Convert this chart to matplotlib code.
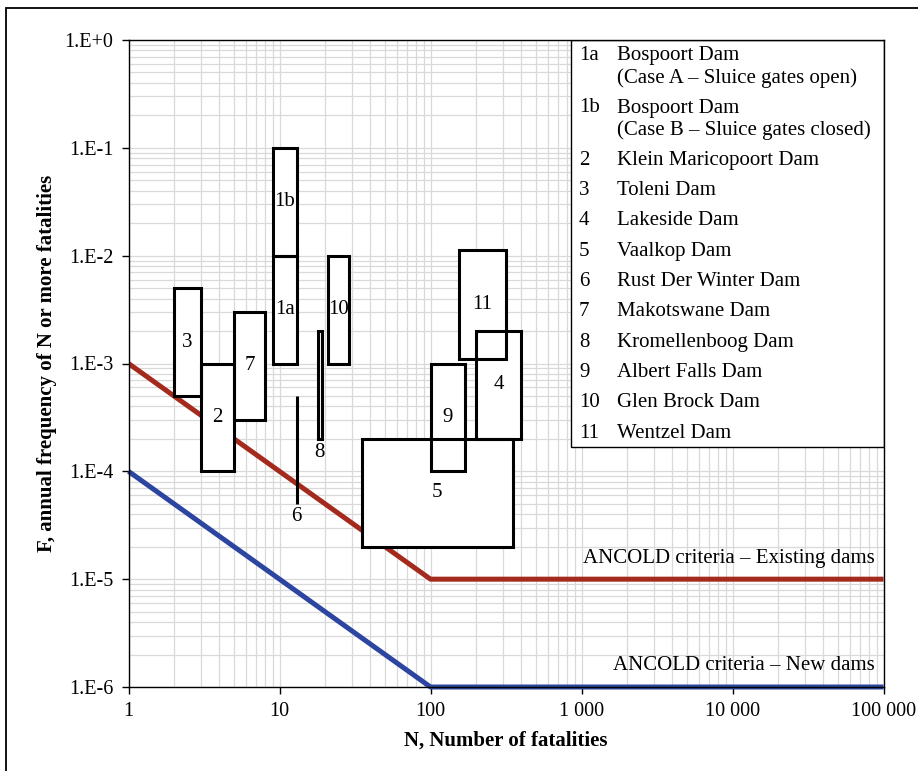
import matplotlib
matplotlib.use("Agg")
import matplotlib.pyplot as plt
from matplotlib.patches import Rectangle
from matplotlib.ticker import FixedLocator, FuncFormatter, LogLocator, NullFormatter

plt.rcParams['font.family'] = ['Liberation Serif', 'DejaVu Serif']

# F-N boxes per dam: N range and F range
dam_ids = ['1a', '1b', '2', '3', '4', '5', '6', '7', '8', '9', '10', '11']
n_low = [9, 9, 3, 2, 200, 35, 13, 5, 18, 100, 21, 155]
n_high = [13, 13, 5, 3, 400, 350, 13, 8, 19, 170, 29, 315]
f_low = [1e-3, 1e-2, 1e-4, 5e-4, 2e-4, 2e-5, 5e-5, 3e-4, 2e-4, 1e-4, 1e-3, 1.1e-3]
f_high = [1e-2, 1e-1, 1e-3, 5e-3, 2e-3, 2e-4, 5e-4, 3e-3, 2e-3, 1e-3, 1e-2, 1.13e-2]
label_below = ['6', '8']  # these labels sit under the box

# ANCOLD criteria lines
crit_n = [1, 100, 100000]
crit_existing = [1e-3, 1e-5, 1e-5]
crit_new = [1e-4, 1e-6, 1e-6]

legend_ids = ['1a', '1b', '2', '3', '4', '5', '6', '7', '8', '9', '10', '11']
legend_names = [
    ['Bospoort Dam', '(Case A – Sluice gates open)'],
    ['Bospoort Dam', '(Case B – Sluice gates closed)'],
    ['Klein Maricopoort Dam'],
    ['Toleni Dam'],
    ['Lakeside Dam'],
    ['Vaalkop Dam'],
    ['Rust Der Winter Dam'],
    ['Makotswane Dam'],
    ['Kromellenboog Dam'],
    ['Albert Falls Dam'],
    ['Glen Brock Dam'],
    ['Wentzel Dam'],
]

x_ticks = [1, 10, 100, 1000, 10000, 100000]
x_tick_labels = ['1', '10', '100', '1 000', '10 000', '100 000']
y_ticks = [1e-6, 1e-5, 1e-4, 1e-3, 1e-2, 1e-1, 1]
y_tick_labels = ['1.E-6', '1.E-5', '1.E-4', '1.E-3', '1.E-2', '1.E-1', '1.E+0']

W, H = 918, 771
fig = plt.figure(figsize=(W / 100, H / 100), dpi=100)
ax_l, ax_r, ax_t, ax_b = 128.5, 883.5, 40, 687  # axes edges in pixels
ax = fig.add_axes([ax_l / W, 1 - ax_b / H, (ax_r - ax_l) / W, (ax_b - ax_t) / H])

ax.set_xscale('log')
ax.set_yscale('log')
ax.set_xlim(1, 100000)
ax.set_ylim(1e-6, 1)

# grid (major + minor)
ax.xaxis.set_minor_locator(LogLocator(base=10, subs=range(2, 10), numticks=20))
ax.yaxis.set_minor_locator(LogLocator(base=10, subs=range(2, 10), numticks=20))
ax.xaxis.set_minor_formatter(NullFormatter())
ax.yaxis.set_minor_formatter(NullFormatter())
ax.grid(True, which='both', color='#d9d9d9', linewidth=0.9, zorder=0)
ax.set_axisbelow(True)

ax.xaxis.set_major_locator(FixedLocator(x_ticks))
ax.xaxis.set_major_formatter(FuncFormatter(lambda v, p: x_tick_labels[x_ticks.index(round(v))] if round(v) in x_ticks else ''))
ax.yaxis.set_major_locator(FixedLocator(y_ticks))
ax.set_yticklabels(y_tick_labels)
ax.tick_params(which='major', direction='out', length=5, width=1, labelsize=14.5, pad=6)
ax.tick_params(which='minor', length=0)
for sp in ax.spines.values():
    sp.set_linewidth(1.0)
    sp.set_zorder(10)

# criteria lines
ax.plot(crit_n, crit_existing, color='#a32a1c', linewidth=3.6, zorder=2, solid_capstyle='butt')
ax.plot(crit_n, crit_new, color='#2c45a0', linewidth=3.6, zorder=2, solid_capstyle='butt', clip_on=False)
ax.text(8.8e4, 1.57e-5, 'ANCOLD criteria – Existing dams', ha='right', va='center', fontsize=15, zorder=3)
ax.text(8.8e4, 1.57e-6, 'ANCOLD criteria – New dams', ha='right', va='center', fontsize=15, zorder=3)

# dam boxes: white fill under all edges
for i, d in enumerate(dam_ids):
    w = n_high[i] - n_low[i]
    h = f_high[i] - f_low[i]
    ax.add_patch(Rectangle((n_low[i], f_low[i]), w, h, facecolor='white', edgecolor='none', zorder=4))
for i, d in enumerate(dam_ids):
    w = n_high[i] - n_low[i]
    h = f_high[i] - f_low[i]
    ax.add_patch(Rectangle((n_low[i], f_low[i]), w, h, facecolor='none', edgecolor='black',
                           linewidth=2.2, zorder=5))
    xc = (n_low[i] * n_high[i]) ** 0.5
    if d in label_below:
        ax.annotate(d, (xc, f_low[i]), xytext=(0, -9.5), textcoords='offset points',
                    ha='center', va='center', fontsize=15, zorder=6)
    else:
        yc = (f_low[i] * f_high[i]) ** 0.5
        ax.text(xc, yc, d, ha='center', va='center', fontsize=15, zorder=6)

# legend box drawn by hand
def fx(px):
    return (px - ax_l) / (ax_r - ax_l)


def fy(py):
    return (ax_b - py) / (ax_b - ax_t)


ax.add_patch(Rectangle((fx(571), fy(447)), fx(883.5) - fx(571), fy(40) - fy(447), transform=ax.transAxes,
                       facecolor='white', edgecolor='black', linewidth=1.0, zorder=8))
row_y = 55.7
for d, names in zip(legend_ids, legend_names):
    ax.text(fx(579), fy(row_y), d, transform=ax.transAxes, ha='left', va='center', fontsize=15, zorder=9)
    for k, nm in enumerate(names):
        ax.text(fx(617), fy(row_y + 22 * k), nm, transform=ax.transAxes, ha='left', va='center',
                fontsize=15, zorder=9)
    row_y += 30.3 + 22 * (len(names) - 1)

ax.set_xlabel('N, Number of fatalities', fontsize=15, fontweight='bold')
ax.set_ylabel('F, annual frequency of N or more fatalities', fontsize=15, fontweight='bold')
ax.xaxis.set_label_coords(0.5, fy(731))
ax.yaxis.set_label_coords(fx(57), 0.5)

# outer frame (left and top edges visible)
fig.add_artist(Rectangle((6 / W, -0.1), 1.2, 1 - 8 / H + 0.1, transform=fig.transFigure,
                         facecolor='none', edgecolor='black', linewidth=1.3, clip_on=False))

fig.savefig('out.png', dpi=100)
